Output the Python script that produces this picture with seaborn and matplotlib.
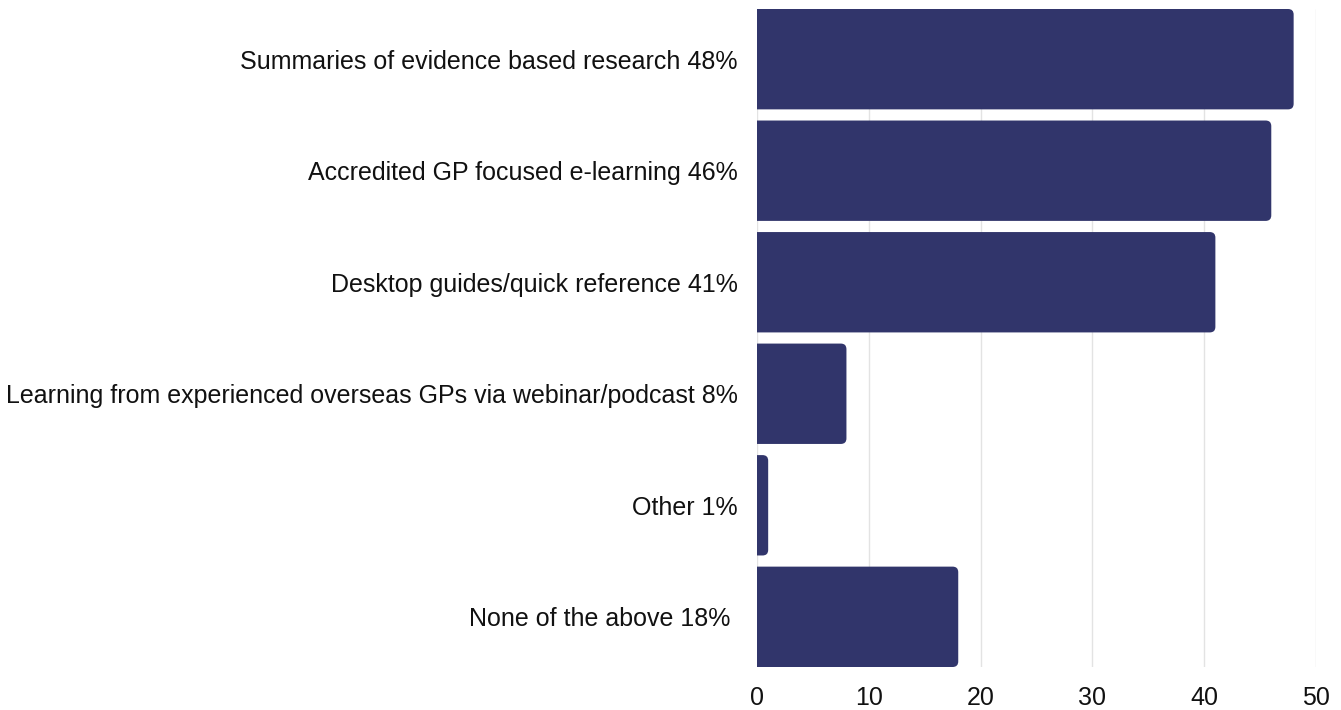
import pandas as pd
import matplotlib.pyplot as plt
import seaborn as sns
from matplotlib.patches import FancyBboxPatch

# data
labels = [
    "Summaries of evidence based research 48%",
    "Accredited GP focused e-learning 46%",
    "Desktop guides/quick reference 41%",
    "Learning from experienced overseas GPs via webinar/podcast 8%",
    "Other 1%",
    "None of the above 18% ",
]
values = [48, 46, 41, 8, 1, 18]

df = pd.DataFrame({"label": labels, "value": values})

sns.set_theme(style="white")
plt.rcParams['font.family'] = ['Liberation Sans', 'DejaVu Sans']

fig = plt.figure(figsize=(13.41, 7.10), dpi=100)
ax = fig.add_axes([757 / 1341, 1 - 667 / 710, (1316 - 757) / 1341, 658 / 710])

bar_color = "#31356b"
sns.barplot(data=df, x="value", y="label", color=bar_color, width=0.9,
            saturation=1, ax=ax, zorder=2)

# swap plain bars for ones with rounded corners
for p in list(ax.patches):
    x, y = p.get_x(), p.get_y()
    w, h = p.get_width(), p.get_height()
    p.remove()
    rb = FancyBboxPatch((x - 1, y), w + 1, h,
                        boxstyle="round,pad=0,rounding_size=0.5",
                        mutation_aspect=0.1, fc=bar_color, ec="none", zorder=2)
    ax.add_patch(rb)

ax.set_xlim(0, 50)
ax.set_ylim(5.45, -0.45)
ax.set_xticks([0, 10, 20, 30, 40, 50])
ax.xaxis.grid(True, color="#e3e3e3", linewidth=1, zorder=0)
ax.yaxis.grid(False)
for s in ax.spines.values():
    s.set_visible(False)

ax.set_xlabel("")
ax.set_ylabel("")
ax.tick_params(axis="y", length=0, pad=14, labelsize=18, labelcolor="#111111")
ax.tick_params(axis="x", length=0, pad=14, labelsize=18, labelcolor="#111111")
for t in ax.get_xticklabels():
    t.set_clip_on(False)
for t in ax.get_yticklabels():
    t.set_y(t.get_position()[1] + 0.015)

fig.savefig("out.png", dpi=100)
